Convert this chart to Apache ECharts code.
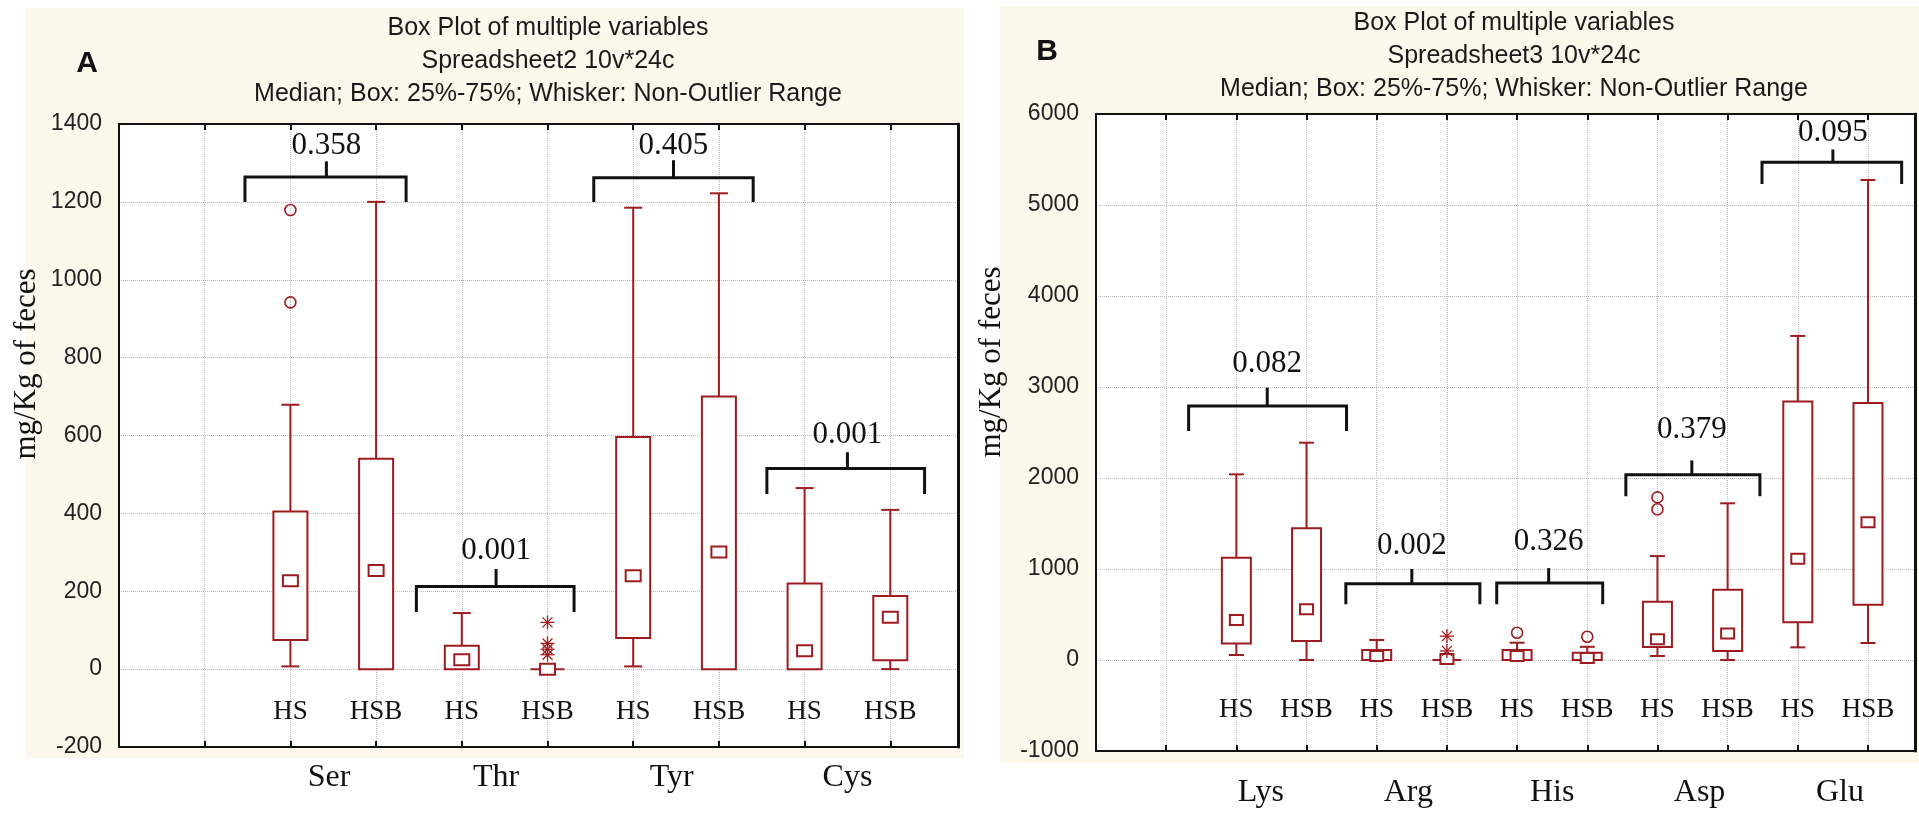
<!DOCTYPE html>
<html><head><meta charset="utf-8">
<script src="https://cdn.jsdelivr.net/npm/echarts@6/dist/echarts.min.js"></script>
<style>html,body{margin:0;padding:0;background:#fff}#c{width:1919px;height:814px}</style>
</head><body><div id="c"></div>
<script>
// ---------- Panel A data ----------
const aCategories = ['Ser', 'Thr', 'Tyr', 'Cys'];
const groups = ['HS', 'HSB'];
const aMin    = [7, 0, 0, 0, 7, 0, 0, 0];
const aQ1     = [75, 0, 0, 0, 80, 0, 0, 23];
const aMedian = [227, 253, 24, 0, 240, 301, 47, 133];
const aQ3     = [405, 540, 60, 0, 596, 700, 220, 188];
const aMax    = [679, 1200, 144, 0, 1185, 1222, 465, 409];
const aOutlierBox   = [0, 0, 3, 3, 3, 3];
const aOutlierValue = [1179, 942, 120, 66, 51, 37];
const aOutlierKind  = ['o', 'o', '*', '*', '*', '*'];
const aPValues     = ['0.358', '0.001', '0.405', '0.001'];
const aBracketLeft  = [1.47, 3.47, 5.54, 7.56];
const aBracketRight = [3.35, 5.31, 7.40, 9.40];
const aBracketMid   = [2.42, 4.40, 6.47, 8.50];
const aBracketTop   = [1264, 212, 1262, 515];
const aBracketLeg   = [1200, 147, 1200, 450];
const aBracketTick  = [1304, 257, 1307, 557];
const aPTextY       = [1345, 303, 1344, 602];
const aCatLabelPos  = [2.45, 4.4, 6.45, 8.5];

// ---------- Panel B data ----------
const bCategories = ['Lys', 'Arg', 'His', 'Asp', 'Glu'];
const bMin    = [55, 0, 0, 0, 0, 0, 44, 0, 139, 187];
const bQ1     = [180, 209, 0, 0, 0, 0, 144, 100, 414, 606];
const bMedian = [440, 557, 45, 12, 44, 22, 227, 292, 1112, 1513];
const bQ3     = [1125, 1447, 110, 0, 110, 80, 641, 772, 2842, 2825];
const bMax    = [2040, 2388, 220, 0, 190, 145, 1142, 1722, 3561, 5275];
const bOutlierBox   = [3, 3, 4, 5, 6, 6];
const bOutlierValue = [262, 100, 300, 255, 1787, 1656];
const bOutlierKind  = ['*', '*', 'o', 'o', 'o', 'o'];
const bPValues      = ['0.082', '0.002', '0.326', '0.379', '0.095'];
const bBracketLeft  = [1.32, 3.56, 5.71, 7.55, 9.49];
const bBracketRight = [3.57, 5.47, 7.22, 9.46, 11.48];
const bBracketMid   = [2.44, 4.50, 6.45, 8.49, 10.50];
const bBracketTop   = [2791, 837, 846, 2036, 5471];
const bBracketLeg   = [2516, 613, 613, 1800, 5231];
const bBracketTick  = [2993, 1000, 1010, 2193, 5610];
const bPTextY       = [3250, 1250, 1300, 2525, 5790];
const bCatLabelPos  = [2.35, 4.45, 6.5, 8.6, 10.6];

const FIRST_SLOT = 2;
const RED = '#9e1b1f';
const SERIF = '"Liberation Serif", "Times New Roman", serif';
const SANS = '"Liberation Sans", Arial, sans-serif';

function boxData(mn, q1, md, q3, mx) {
  return mn.map((v, i) => [FIRST_SLOT + i, mn[i], q1[i], md[i], q3[i], mx[i]]);
}
function outlierData(boxIdx, vals, kinds) {
  return boxIdx.map((b, i) => [FIRST_SLOT + b, vals[i], kinds[i] === '*' ? 1 : 0]);
}
function bracketData(l, r, m, t, lg, tk, ty) {
  return l.map((v, i) => [l[i], r[i], m[i], t[i], lg[i], tk[i], ty[i]]);
}

function boxRenderer(boxW, capW, medW, medH) {
  return function (params, api) {
    const x = api.value(0);
    const c = (v) => api.coord([x, v]);
    const cx = c(api.value(1))[0];
    const yMin = c(api.value(1))[1], yQ1 = c(api.value(2))[1], yMed = c(api.value(3))[1];
    const yQ3 = c(api.value(4))[1], yMax = c(api.value(5))[1];
    const ls = { stroke: RED, lineWidth: 2, fill: null };
    const ch = [];
    if (yMax < yQ3 - 0.5) {
      ch.push({ type: 'line', shape: { x1: cx, y1: yQ3, x2: cx, y2: yMax }, style: ls });
      ch.push({ type: 'line', shape: { x1: cx - capW / 2, y1: yMax, x2: cx + capW / 2, y2: yMax }, style: ls });
    }
    if (yMin > yQ1 + 0.5) {
      ch.push({ type: 'line', shape: { x1: cx, y1: yQ1, x2: cx, y2: yMin }, style: ls });
      ch.push({ type: 'line', shape: { x1: cx - capW / 2, y1: yMin, x2: cx + capW / 2, y2: yMin }, style: ls });
    }
    ch.push({ type: 'rect', shape: { x: cx - boxW / 2, y: Math.min(yQ3, yQ1), width: boxW, height: Math.abs(yQ1 - yQ3) },
      style: { stroke: RED, lineWidth: 2, fill: '#fff' } });
    ch.push({ type: 'rect', shape: { x: cx - medW / 2, y: yMed - medH / 2, width: medW, height: medH },
      style: { stroke: RED, lineWidth: 2, fill: '#fff' } });
    return { type: 'group', children: ch };
  };
}

function outlierRenderer(params, api) {
  const p = api.coord([api.value(0), api.value(1)]);
  const cx = p[0], cy = p[1];
  if (api.value(2) === 1) {
    const s = { stroke: RED, lineWidth: 1.3 };
    return { type: 'group', children: [
      { type: 'line', shape: { x1: cx, y1: cy - 7, x2: cx, y2: cy + 7 }, style: s },
      { type: 'line', shape: { x1: cx - 7, y1: cy, x2: cx + 7, y2: cy }, style: s },
      { type: 'line', shape: { x1: cx - 5, y1: cy - 5, x2: cx + 5, y2: cy + 5 }, style: s },
      { type: 'line', shape: { x1: cx - 5, y1: cy + 5, x2: cx + 5, y2: cy - 5 }, style: s }
    ] };
  }
  return { type: 'circle', shape: { cx: cx, cy: cy, r: 5.5 }, style: { stroke: RED, lineWidth: 1.6, fill: null } };
}

function bracketRenderer(labels) {
  return function (params, api) {
    const c = (x, y) => api.coord([x, y]);
    const l = api.value(0), r = api.value(1), m = api.value(2);
    const pL = c(l, api.value(4)), pLT = c(l, api.value(3)), pRT = c(r, api.value(3)), pR = c(r, api.value(4));
    const pM = c(m, api.value(3)), pMT = c(m, api.value(5)), pTxt = c(m, api.value(6));
    const s = { stroke: '#111', lineWidth: 3, fill: null };
    return { type: 'group', children: [
      { type: 'polyline', shape: { points: [pL, pLT, pRT, pR] }, style: s },
      { type: 'line', shape: { x1: pM[0], y1: pM[1], x2: pMT[0], y2: pMT[1] }, style: s },
      { type: 'text', style: { text: labels[params.dataIndex], x: pTxt[0], y: pTxt[1], fill: '#111',
        font: '31px ' + SERIF, align: 'center', verticalAlign: 'middle' } }
    ] };
  };
}

function slotLabel(n) {
  return function (v) {
    const r = Math.round(v);
    if (Math.abs(v - r) > 1e-6) return '';
    const i = r - FIRST_SLOT;
    if (i < 0 || i >= n) return '';
    return groups[i % 2];
  };
}

function xAxes(grid, xmax, nBoxes, cats, catPos, hsMargin, catMargin) {
  const grey = { type: 'dotted', color: '#bcbcbc', width: 1 };
  return [
    { gridIndex: grid, type: 'value', min: 0, max: xmax, interval: 1, position: 'bottom',
      axisLine: { show: true, onZero: false, lineStyle: { color: '#111', width: 2 } },
      axisTick: { show: true, inside: true, length: 6, lineStyle: { color: '#111', width: 2 } },
      axisLabel: { show: true, inside: true, margin: hsMargin, formatter: slotLabel(nBoxes),
        fontFamily: SERIF, fontSize: 27, color: '#111' },
      splitLine: { show: true, lineStyle: grey } },
    { gridIndex: grid, type: 'value', min: 0, max: xmax, position: 'bottom',
      axisLine: { show: false }, axisTick: { show: false }, splitLine: { show: false },
      axisLabel: { show: true, customValues: catPos, margin: catMargin,
        formatter: (v) => { const k = catPos.findIndex(p => Math.abs(p - v) < 1e-6); return k >= 0 ? cats[k] : ''; },
        fontFamily: SERIF, fontSize: 32, color: '#111' } },
    { gridIndex: grid, type: 'value', min: 0, max: xmax, interval: 1, position: 'top',
      axisLine: { show: true, onZero: false, lineStyle: { color: '#111', width: 2 } },
      axisTick: { show: true, inside: true, length: 6, lineStyle: { color: '#111', width: 2 } },
      axisLabel: { show: false }, splitLine: { show: false } }
  ];
}
function yAxes(grid, mn, mx, step) {
  return [
    { gridIndex: grid, type: 'value', min: mn, max: mx, interval: step, position: 'left',
      axisLine: { show: true, onZero: false, lineStyle: { color: '#111', width: 2 } },
      axisTick: { show: false },
      axisLabel: { margin: 17, fontFamily: SANS, fontSize: 23, color: '#222', formatter: (v) => String(v) },
      splitLine: { show: true, lineStyle: { type: 'dotted', color: '#bcbcbc', width: 1 } } },
    { gridIndex: grid, type: 'value', min: mn, max: mx, interval: step, position: 'right',
      axisLine: { show: true, onZero: false, lineStyle: { color: '#111', width: 3 } },
      axisTick: { show: false }, axisLabel: { show: false }, splitLine: { show: false } }
  ];
}

const titleFont = '25px ' + SANS;
function titleLines(cx, ys, sheet) {
  const lines = ['Box Plot of multiple variables', sheet, 'Median; Box: 25%-75%; Whisker: Non-Outlier Range'];
  return lines.map((t, i) => ({ type: 'text', x: cx, y: ys[i], z: 10,
    style: { text: t, font: titleFont, fill: '#1a1a1a', align: 'center', verticalAlign: 'middle' } }));
}

const option = {
  backgroundColor: '#ffffff',
  animation: false,
  grid: [
    { left: 119, top: 124, width: 839, height: 623, show: true, backgroundColor: '#ffffff', borderWidth: 0 },
    { left: 1096, top: 114, width: 819, height: 637, show: true, backgroundColor: '#ffffff', borderWidth: 0 }
  ],
  xAxis: [].concat(
    xAxes(0, 9.79, aMin.length, aCategories, aCatLabelPos, 22, 15),
    xAxes(1, 11.67, bMin.length, bCategories, bCatLabelPos, 28, 26)
  ),
  yAxis: [].concat(yAxes(0, -200, 1400, 200), yAxes(1, -1000, 6000, 1000)),
  graphic: [
    { type: 'rect', z: -100, shape: { x: 26, y: 8, width: 938, height: 750 }, style: { fill: '#fcf8ec' } },
    { type: 'rect', z: -100, shape: { x: 1000, y: 6, width: 919, height: 757 }, style: { fill: '#fcf8ec' } },
    { type: 'text', x: 87, y: 64, z: 10, style: { text: 'A', font: 'bold 30px ' + SANS, fill: '#111', align: 'center', verticalAlign: 'middle' } },
    { type: 'text', x: 1047, y: 52, z: 10, style: { text: 'B', font: 'bold 30px ' + SANS, fill: '#111', align: 'center', verticalAlign: 'middle' } },
    { type: 'text', x: 27, y: 364, rotation: Math.PI / 2, z: 10,
      style: { text: 'mg/Kg of feces', font: '31px ' + SERIF, fill: '#111', align: 'center', verticalAlign: 'middle' } },
    { type: 'text', x: 992, y: 362, rotation: Math.PI / 2, z: 10,
      style: { text: 'mg/Kg of feces', font: '31px ' + SERIF, fill: '#111', align: 'center', verticalAlign: 'middle' } }
  ].concat(titleLines(548, [28, 61, 94], 'Spreadsheet2 10v*24c'), titleLines(1514, [23, 56, 89], 'Spreadsheet3 10v*24c')),
  series: [
    { type: 'custom', xAxisIndex: 0, yAxisIndex: 0, renderItem: boxRenderer(34, 18, 15, 11),
      encode: { x: 0, y: [1, 2, 3, 4, 5] }, data: boxData(aMin, aQ1, aMedian, aQ3, aMax), z: 5 },
    { type: 'custom', xAxisIndex: 0, yAxisIndex: 0, renderItem: outlierRenderer,
      encode: { x: 0, y: 1 }, data: outlierData(aOutlierBox, aOutlierValue, aOutlierKind), z: 6 },
    { type: 'custom', xAxisIndex: 0, yAxisIndex: 0, renderItem: bracketRenderer(aPValues),
      encode: { x: [0, 1], y: [3, 4] }, data: bracketData(aBracketLeft, aBracketRight, aBracketMid, aBracketTop, aBracketLeg, aBracketTick, aPTextY), z: 6 },
    { type: 'custom', xAxisIndex: 3, yAxisIndex: 2, renderItem: boxRenderer(29, 15, 13, 10),
      encode: { x: 0, y: [1, 2, 3, 4, 5] }, data: boxData(bMin, bQ1, bMedian, bQ3, bMax), z: 5 },
    { type: 'custom', xAxisIndex: 3, yAxisIndex: 2, renderItem: outlierRenderer,
      encode: { x: 0, y: 1 }, data: outlierData(bOutlierBox, bOutlierValue, bOutlierKind), z: 6 },
    { type: 'custom', xAxisIndex: 3, yAxisIndex: 2, renderItem: bracketRenderer(bPValues),
      encode: { x: [0, 1], y: [3, 4] }, data: bracketData(bBracketLeft, bBracketRight, bBracketMid, bBracketTop, bBracketLeg, bBracketTick, bPTextY), z: 6 }
  ]
};
const chart = echarts.init(document.getElementById('c'), null, { renderer: 'canvas', devicePixelRatio: 1 });
chart.setOption(option);
</script>
</body></html>
